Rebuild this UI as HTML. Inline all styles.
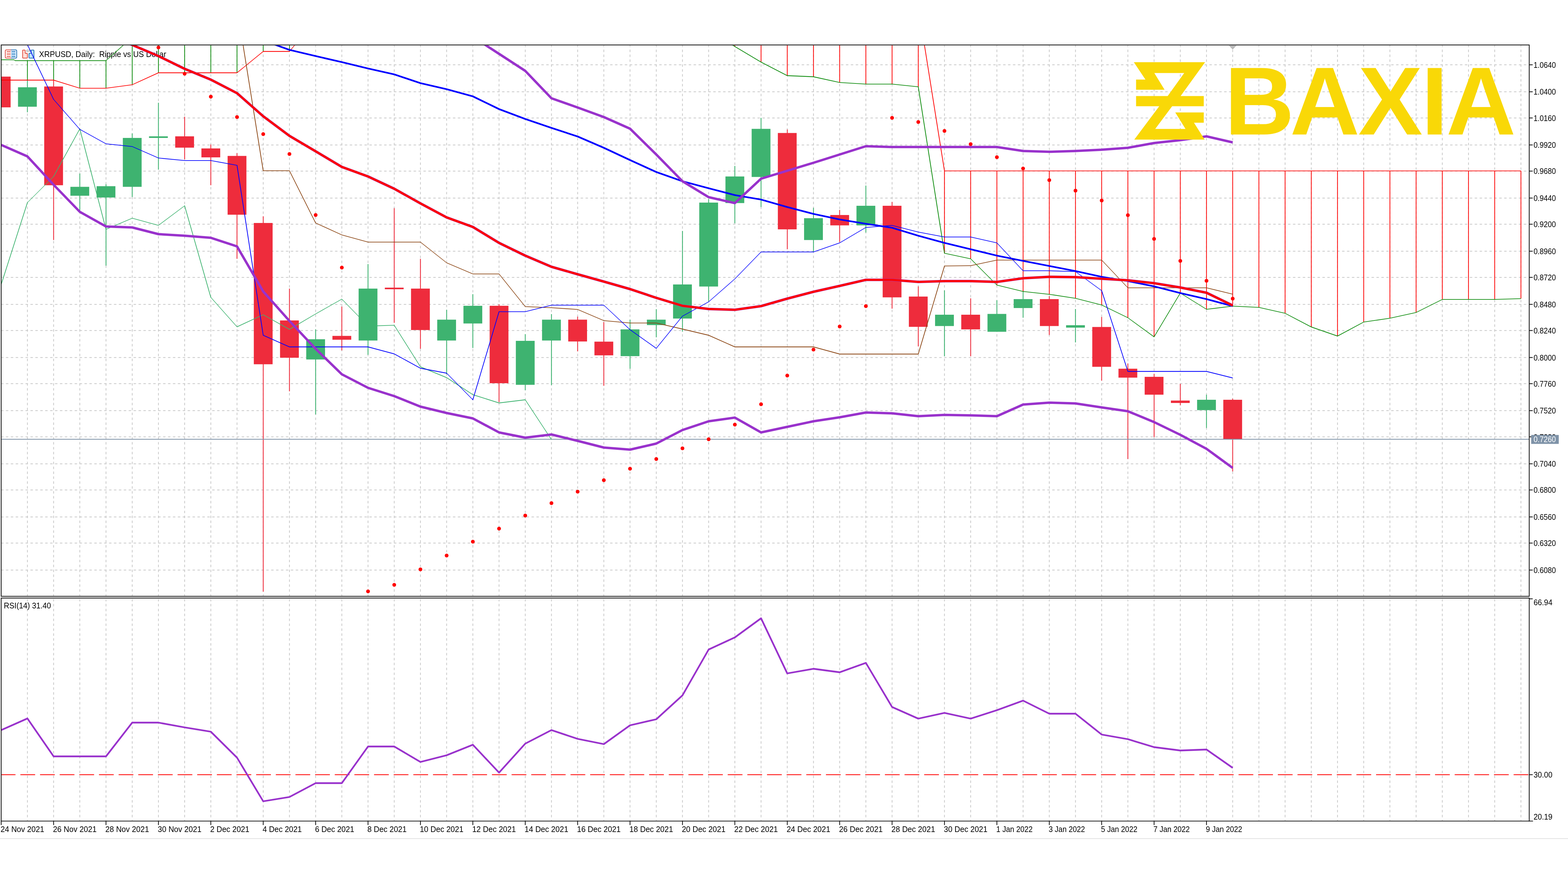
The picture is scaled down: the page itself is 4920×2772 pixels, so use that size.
<!DOCTYPE html>
<html><head><meta charset="utf-8"><title>XRPUSD, Daily: Ripple vs US Dollar</title>
<style>html,body{margin:0;padding:0;background:#fff}body{width:4920px;height:2772px}svg text{white-space:pre}</style>
</head><body>
<svg width="4920" height="2772" viewBox="0 0 4920 2772" style="display:block">
<rect width="4920" height="2772" fill="#fff"/>
<defs>
<clipPath id="cm"><rect x="5.0" y="142.4" width="4791.9" height="1728.3"/></clipPath>
<clipPath id="cr"><rect x="5.0" y="1878.7" width="4791.9" height="697.6"/></clipPath>
</defs>
<g clip-path="url(#cm)" stroke="#c6c6c6" stroke-width="2.25" stroke-dasharray="7.70 7.70" fill="none">
<line x1="86.0" y1="140.4" x2="86.0" y2="1872.0"/>
<line x1="168.2" y1="140.4" x2="168.2" y2="1872.0"/>
<line x1="250.4" y1="140.4" x2="250.4" y2="1872.0"/>
<line x1="332.6" y1="140.4" x2="332.6" y2="1872.0"/>
<line x1="414.9" y1="140.4" x2="414.9" y2="1872.0"/>
<line x1="497.1" y1="140.4" x2="497.1" y2="1872.0"/>
<line x1="579.3" y1="140.4" x2="579.3" y2="1872.0"/>
<line x1="661.5" y1="140.4" x2="661.5" y2="1872.0"/>
<line x1="743.7" y1="140.4" x2="743.7" y2="1872.0"/>
<line x1="825.9" y1="140.4" x2="825.9" y2="1872.0"/>
<line x1="908.2" y1="140.4" x2="908.2" y2="1872.0"/>
<line x1="990.4" y1="140.4" x2="990.4" y2="1872.0"/>
<line x1="1072.6" y1="140.4" x2="1072.6" y2="1872.0"/>
<line x1="1154.8" y1="140.4" x2="1154.8" y2="1872.0"/>
<line x1="1237.0" y1="140.4" x2="1237.0" y2="1872.0"/>
<line x1="1319.2" y1="140.4" x2="1319.2" y2="1872.0"/>
<line x1="1401.4" y1="140.4" x2="1401.4" y2="1872.0"/>
<line x1="1483.7" y1="140.4" x2="1483.7" y2="1872.0"/>
<line x1="1565.9" y1="140.4" x2="1565.9" y2="1872.0"/>
<line x1="1648.1" y1="140.4" x2="1648.1" y2="1872.0"/>
<line x1="1730.3" y1="140.4" x2="1730.3" y2="1872.0"/>
<line x1="1812.5" y1="140.4" x2="1812.5" y2="1872.0"/>
<line x1="1894.7" y1="140.4" x2="1894.7" y2="1872.0"/>
<line x1="1976.9" y1="140.4" x2="1976.9" y2="1872.0"/>
<line x1="2059.2" y1="140.4" x2="2059.2" y2="1872.0"/>
<line x1="2141.4" y1="140.4" x2="2141.4" y2="1872.0"/>
<line x1="2223.6" y1="140.4" x2="2223.6" y2="1872.0"/>
<line x1="2305.8" y1="140.4" x2="2305.8" y2="1872.0"/>
<line x1="2388.0" y1="140.4" x2="2388.0" y2="1872.0"/>
<line x1="2470.2" y1="140.4" x2="2470.2" y2="1872.0"/>
<line x1="2552.5" y1="140.4" x2="2552.5" y2="1872.0"/>
<line x1="2634.7" y1="140.4" x2="2634.7" y2="1872.0"/>
<line x1="2716.9" y1="140.4" x2="2716.9" y2="1872.0"/>
<line x1="2799.1" y1="140.4" x2="2799.1" y2="1872.0"/>
<line x1="2881.3" y1="140.4" x2="2881.3" y2="1872.0"/>
<line x1="2963.5" y1="140.4" x2="2963.5" y2="1872.0"/>
<line x1="3045.7" y1="140.4" x2="3045.7" y2="1872.0"/>
<line x1="3128.0" y1="140.4" x2="3128.0" y2="1872.0"/>
<line x1="3210.2" y1="140.4" x2="3210.2" y2="1872.0"/>
<line x1="3292.4" y1="140.4" x2="3292.4" y2="1872.0"/>
<line x1="3374.6" y1="140.4" x2="3374.6" y2="1872.0"/>
<line x1="3456.8" y1="140.4" x2="3456.8" y2="1872.0"/>
<line x1="3539.0" y1="140.4" x2="3539.0" y2="1872.0"/>
<line x1="3621.2" y1="140.4" x2="3621.2" y2="1872.0"/>
<line x1="3703.5" y1="140.4" x2="3703.5" y2="1872.0"/>
<line x1="3785.7" y1="140.4" x2="3785.7" y2="1872.0"/>
<line x1="3867.9" y1="140.4" x2="3867.9" y2="1872.0"/>
<line x1="3950.1" y1="140.4" x2="3950.1" y2="1872.0"/>
<line x1="4032.3" y1="140.4" x2="4032.3" y2="1872.0"/>
<line x1="4114.5" y1="140.4" x2="4114.5" y2="1872.0"/>
<line x1="4196.8" y1="140.4" x2="4196.8" y2="1872.0"/>
<line x1="4279.0" y1="140.4" x2="4279.0" y2="1872.0"/>
<line x1="4361.2" y1="140.4" x2="4361.2" y2="1872.0"/>
<line x1="4443.4" y1="140.4" x2="4443.4" y2="1872.0"/>
<line x1="4525.6" y1="140.4" x2="4525.6" y2="1872.0"/>
<line x1="4607.8" y1="140.4" x2="4607.8" y2="1872.0"/>
<line x1="4690.0" y1="140.4" x2="4690.0" y2="1872.0"/>
<line x1="4772.3" y1="140.4" x2="4772.3" y2="1872.0"/>
<line x1="3.0" y1="203.4" x2="4798.3" y2="203.4" stroke-dasharray="7.707 7.707"/>
<line x1="3.0" y1="288.1" x2="4798.3" y2="288.1" stroke-dasharray="7.707 7.707"/>
<line x1="3.0" y1="370.3" x2="4798.3" y2="370.3" stroke-dasharray="7.707 7.707"/>
<line x1="3.0" y1="455.0" x2="4798.3" y2="455.0" stroke-dasharray="7.707 7.707"/>
<line x1="3.0" y1="537.1" x2="4798.3" y2="537.1" stroke-dasharray="7.707 7.707"/>
<line x1="3.0" y1="621.8" x2="4798.3" y2="621.8" stroke-dasharray="7.707 7.707"/>
<line x1="3.0" y1="703.9" x2="4798.3" y2="703.9" stroke-dasharray="7.707 7.707"/>
<line x1="3.0" y1="788.6" x2="4798.3" y2="788.6" stroke-dasharray="7.707 7.707"/>
<line x1="3.0" y1="870.8" x2="4798.3" y2="870.8" stroke-dasharray="7.707 7.707"/>
<line x1="3.0" y1="955.5" x2="4798.3" y2="955.5" stroke-dasharray="7.707 7.707"/>
<line x1="3.0" y1="1037.6" x2="4798.3" y2="1037.6" stroke-dasharray="7.707 7.707"/>
<line x1="3.0" y1="1122.3" x2="4798.3" y2="1122.3" stroke-dasharray="7.707 7.707"/>
<line x1="3.0" y1="1204.4" x2="4798.3" y2="1204.4" stroke-dasharray="7.707 7.707"/>
<line x1="3.0" y1="1289.1" x2="4798.3" y2="1289.1" stroke-dasharray="7.707 7.707"/>
<line x1="3.0" y1="1371.3" x2="4798.3" y2="1371.3" stroke-dasharray="7.707 7.707"/>
<line x1="3.0" y1="1456.0" x2="4798.3" y2="1456.0" stroke-dasharray="7.707 7.707"/>
<line x1="3.0" y1="1538.1" x2="4798.3" y2="1538.1" stroke-dasharray="7.707 7.707"/>
<line x1="3.0" y1="1622.8" x2="4798.3" y2="1622.8" stroke-dasharray="7.707 7.707"/>
<line x1="3.0" y1="1704.9" x2="4798.3" y2="1704.9" stroke-dasharray="7.707 7.707"/>
<line x1="3.0" y1="1789.6" x2="4798.3" y2="1789.6" stroke-dasharray="7.707 7.707"/>
</g>
<g clip-path="url(#cr)" stroke="#c6c6c6" stroke-width="2.25" stroke-dasharray="7.70 7.70" fill="none">
<line x1="86.0" y1="1880.4" x2="86.0" y2="2577.6"/>
<line x1="168.2" y1="1880.4" x2="168.2" y2="2577.6"/>
<line x1="250.4" y1="1880.4" x2="250.4" y2="2577.6"/>
<line x1="332.6" y1="1880.4" x2="332.6" y2="2577.6"/>
<line x1="414.9" y1="1880.4" x2="414.9" y2="2577.6"/>
<line x1="497.1" y1="1880.4" x2="497.1" y2="2577.6"/>
<line x1="579.3" y1="1880.4" x2="579.3" y2="2577.6"/>
<line x1="661.5" y1="1880.4" x2="661.5" y2="2577.6"/>
<line x1="743.7" y1="1880.4" x2="743.7" y2="2577.6"/>
<line x1="825.9" y1="1880.4" x2="825.9" y2="2577.6"/>
<line x1="908.2" y1="1880.4" x2="908.2" y2="2577.6"/>
<line x1="990.4" y1="1880.4" x2="990.4" y2="2577.6"/>
<line x1="1072.6" y1="1880.4" x2="1072.6" y2="2577.6"/>
<line x1="1154.8" y1="1880.4" x2="1154.8" y2="2577.6"/>
<line x1="1237.0" y1="1880.4" x2="1237.0" y2="2577.6"/>
<line x1="1319.2" y1="1880.4" x2="1319.2" y2="2577.6"/>
<line x1="1401.4" y1="1880.4" x2="1401.4" y2="2577.6"/>
<line x1="1483.7" y1="1880.4" x2="1483.7" y2="2577.6"/>
<line x1="1565.9" y1="1880.4" x2="1565.9" y2="2577.6"/>
<line x1="1648.1" y1="1880.4" x2="1648.1" y2="2577.6"/>
<line x1="1730.3" y1="1880.4" x2="1730.3" y2="2577.6"/>
<line x1="1812.5" y1="1880.4" x2="1812.5" y2="2577.6"/>
<line x1="1894.7" y1="1880.4" x2="1894.7" y2="2577.6"/>
<line x1="1976.9" y1="1880.4" x2="1976.9" y2="2577.6"/>
<line x1="2059.2" y1="1880.4" x2="2059.2" y2="2577.6"/>
<line x1="2141.4" y1="1880.4" x2="2141.4" y2="2577.6"/>
<line x1="2223.6" y1="1880.4" x2="2223.6" y2="2577.6"/>
<line x1="2305.8" y1="1880.4" x2="2305.8" y2="2577.6"/>
<line x1="2388.0" y1="1880.4" x2="2388.0" y2="2577.6"/>
<line x1="2470.2" y1="1880.4" x2="2470.2" y2="2577.6"/>
<line x1="2552.5" y1="1880.4" x2="2552.5" y2="2577.6"/>
<line x1="2634.7" y1="1880.4" x2="2634.7" y2="2577.6"/>
<line x1="2716.9" y1="1880.4" x2="2716.9" y2="2577.6"/>
<line x1="2799.1" y1="1880.4" x2="2799.1" y2="2577.6"/>
<line x1="2881.3" y1="1880.4" x2="2881.3" y2="2577.6"/>
<line x1="2963.5" y1="1880.4" x2="2963.5" y2="2577.6"/>
<line x1="3045.7" y1="1880.4" x2="3045.7" y2="2577.6"/>
<line x1="3128.0" y1="1880.4" x2="3128.0" y2="2577.6"/>
<line x1="3210.2" y1="1880.4" x2="3210.2" y2="2577.6"/>
<line x1="3292.4" y1="1880.4" x2="3292.4" y2="2577.6"/>
<line x1="3374.6" y1="1880.4" x2="3374.6" y2="2577.6"/>
<line x1="3456.8" y1="1880.4" x2="3456.8" y2="2577.6"/>
<line x1="3539.0" y1="1880.4" x2="3539.0" y2="2577.6"/>
<line x1="3621.2" y1="1880.4" x2="3621.2" y2="2577.6"/>
<line x1="3703.5" y1="1880.4" x2="3703.5" y2="2577.6"/>
<line x1="3785.7" y1="1880.4" x2="3785.7" y2="2577.6"/>
<line x1="3867.9" y1="1880.4" x2="3867.9" y2="2577.6"/>
<line x1="3950.1" y1="1880.4" x2="3950.1" y2="2577.6"/>
<line x1="4032.3" y1="1880.4" x2="4032.3" y2="2577.6"/>
<line x1="4114.5" y1="1880.4" x2="4114.5" y2="2577.6"/>
<line x1="4196.8" y1="1880.4" x2="4196.8" y2="2577.6"/>
<line x1="4279.0" y1="1880.4" x2="4279.0" y2="2577.6"/>
<line x1="4361.2" y1="1880.4" x2="4361.2" y2="2577.6"/>
<line x1="4443.4" y1="1880.4" x2="4443.4" y2="2577.6"/>
<line x1="4525.6" y1="1880.4" x2="4525.6" y2="2577.6"/>
<line x1="4607.8" y1="1880.4" x2="4607.8" y2="2577.6"/>
<line x1="4690.0" y1="1880.4" x2="4690.0" y2="2577.6"/>
<line x1="4772.3" y1="1880.4" x2="4772.3" y2="2577.6"/>
</g>
<g id="title">
<rect x="20.5" y="159.6" width="14.2" height="19.8" fill="#ffe3dd"/>
<rect x="34.7" y="159.6" width="14.6" height="19.8" fill="#c3e3fb"/>
<path d="M35 156.7 H19.6 a3 3 0 0 0 -3 3 V179.3 a3 3 0 0 0 3 3 H35" fill="none" stroke="#de4b3f" stroke-width="2.3"/>
<path d="M34.4 156.7 H49.4 a3 3 0 0 1 3 3 V179.3 a3 3 0 0 1 -3 3 H34.4" fill="none" stroke="#1c6fb4" stroke-width="2.3"/>
<line x1="21" y1="162.2" x2="33.1" y2="162.2" stroke="#de4b3f" stroke-width="2.1"/>
<line x1="36.3" y1="162.2" x2="48.4" y2="162.2" stroke="#1c6fb4" stroke-width="2.1"/>
<line x1="21" y1="169.7" x2="33.1" y2="169.7" stroke="#de4b3f" stroke-width="2.1"/>
<line x1="36.3" y1="169.7" x2="48.4" y2="169.7" stroke="#1c6fb4" stroke-width="2.1"/>
<line x1="21" y1="177.1" x2="33.1" y2="177.1" stroke="#de4b3f" stroke-width="2.1"/>
<line x1="36.3" y1="177.1" x2="48.4" y2="177.1" stroke="#1c6fb4" stroke-width="2.1"/>
<path d="M72.6 157.1 h4.4 a2 2 0 0 1 2 2 v7 a1.4 1.4 0 0 0 1.4 1.4 h3.6 a2 2 0 0 1 2 2 v10.8 a2 2 0 0 1 -2 2 h-11.4 a1.6 1.6 0 0 1 -1.6 -1.6 v-22 a1.6 1.6 0 0 1 1.6 -1.6 z" fill="#ffe0d9" stroke="#de4b3f" stroke-width="2.3" stroke-linejoin="round"/>
<path d="M99.6 157.1 h5.2 a1.7 1.7 0 0 1 1.7 1.7 v21.8 a1.7 1.7 0 0 1 -1.7 1.7 h-12.2 a1.7 1.7 0 0 1 -1.7 -1.7 v-11.2 a2 2 0 0 1 2 -2 h3.3 a1.5 1.5 0 0 0 1.5 -1.5 v-6.8 a2 2 0 0 1 1.9 -2 z" fill="#bfe3fc" stroke="#1c6fb4" stroke-width="2.3" stroke-linejoin="round"/>
<rect x="83.4" y="157.4" width="10" height="4.2" rx="1.2" fill="#fff" stroke="#a0a0a0" stroke-width="1.7"/>
<text x="122.5" y="178.6" font-family="Liberation Sans, sans-serif" font-size="26" textLength="399" lengthAdjust="spacingAndGlyphs" fill="#000" xml:space="preserve">XRPUSD, Daily:  Ripple vs US Dollar</text>
</g>
<g clip-path="url(#cm)">
<rect x="-25.7" y="240.5" width="59.0" height="96.5" fill="#ee2c3c"/>
<rect x="84.7" y="251.5" width="2.57" height="101.0" fill="#3eb370"/>
<rect x="56.5" y="274.0" width="59.0" height="61.0" fill="#3eb370"/>
<rect x="166.9" y="251.5" width="2.57" height="502.0" fill="#ee2c3c"/>
<rect x="138.7" y="271.5" width="59.0" height="310.0" fill="#ee2c3c"/>
<rect x="249.1" y="545.0" width="2.57" height="116.0" fill="#3eb370"/>
<rect x="220.9" y="586.5" width="59.0" height="28.0" fill="#3eb370"/>
<rect x="331.4" y="578.5" width="2.57" height="255.5" fill="#3eb370"/>
<rect x="303.1" y="584.5" width="59.0" height="35.5" fill="#3eb370"/>
<rect x="413.6" y="419.0" width="2.57" height="199.5" fill="#3eb370"/>
<rect x="385.4" y="433.0" width="59.0" height="153.5" fill="#3eb370"/>
<rect x="495.8" y="322.5" width="2.57" height="210.0" fill="#3eb370"/>
<rect x="467.6" y="428.0" width="59.0" height="5.0" fill="#3eb370"/>
<rect x="578.0" y="366.5" width="2.57" height="133.5" fill="#ee2c3c"/>
<rect x="549.8" y="428.0" width="59.0" height="35.5" fill="#ee2c3c"/>
<rect x="660.2" y="453.5" width="2.57" height="128.0" fill="#ee2c3c"/>
<rect x="632.0" y="466.0" width="59.0" height="28.0" fill="#ee2c3c"/>
<rect x="742.4" y="481.0" width="2.57" height="331.5" fill="#ee2c3c"/>
<rect x="714.2" y="489.5" width="59.0" height="184.5" fill="#ee2c3c"/>
<rect x="824.7" y="679.0" width="2.57" height="1178.5" fill="#ee2c3c"/>
<rect x="796.4" y="700.0" width="59.0" height="443.5" fill="#ee2c3c"/>
<rect x="906.9" y="906.0" width="2.57" height="322.5" fill="#ee2c3c"/>
<rect x="878.7" y="1006.0" width="59.0" height="117.0" fill="#ee2c3c"/>
<rect x="989.1" y="1034.0" width="2.57" height="267.0" fill="#3eb370"/>
<rect x="960.9" y="1065.0" width="59.0" height="63.5" fill="#3eb370"/>
<rect x="1071.3" y="962.5" width="2.57" height="137.5" fill="#ee2c3c"/>
<rect x="1043.1" y="1054.5" width="59.0" height="12.0" fill="#ee2c3c"/>
<rect x="1153.5" y="829.0" width="2.57" height="285.0" fill="#3eb370"/>
<rect x="1125.3" y="906.0" width="59.0" height="163.0" fill="#3eb370"/>
<rect x="1235.7" y="653.5" width="2.57" height="360.0" fill="#ee2c3c"/>
<rect x="1207.5" y="903.0" width="59.0" height="5.0" fill="#ee2c3c"/>
<rect x="1317.9" y="812.5" width="2.57" height="282.5" fill="#ee2c3c"/>
<rect x="1289.7" y="906.0" width="59.0" height="130.0" fill="#ee2c3c"/>
<rect x="1400.2" y="972.5" width="2.57" height="202.5" fill="#3eb370"/>
<rect x="1371.9" y="1003.5" width="59.0" height="65.5" fill="#3eb370"/>
<rect x="1482.4" y="923.5" width="2.57" height="169.0" fill="#3eb370"/>
<rect x="1454.2" y="960.0" width="59.0" height="55.5" fill="#3eb370"/>
<rect x="1564.6" y="955.0" width="2.57" height="307.5" fill="#ee2c3c"/>
<rect x="1536.4" y="960.0" width="59.0" height="243.0" fill="#ee2c3c"/>
<rect x="1646.8" y="1049.0" width="2.57" height="176.0" fill="#3eb370"/>
<rect x="1618.6" y="1070.0" width="59.0" height="138.0" fill="#3eb370"/>
<rect x="1729.0" y="986.0" width="2.57" height="223.0" fill="#3eb370"/>
<rect x="1700.8" y="1003.5" width="59.0" height="65.5" fill="#3eb370"/>
<rect x="1811.2" y="994.0" width="2.57" height="109.0" fill="#ee2c3c"/>
<rect x="1783.0" y="1003.5" width="59.0" height="68.5" fill="#ee2c3c"/>
<rect x="1893.4" y="1011.0" width="2.57" height="200.0" fill="#ee2c3c"/>
<rect x="1865.2" y="1072.5" width="59.0" height="43.0" fill="#ee2c3c"/>
<rect x="1975.7" y="1003.5" width="2.57" height="154.0" fill="#3eb370"/>
<rect x="1947.4" y="1034.0" width="59.0" height="84.0" fill="#3eb370"/>
<rect x="2057.9" y="970.5" width="2.57" height="88.5" fill="#3eb370"/>
<rect x="2029.7" y="1003.5" width="59.0" height="17.0" fill="#3eb370"/>
<rect x="2140.1" y="725.0" width="2.57" height="316.0" fill="#3eb370"/>
<rect x="2111.9" y="893.0" width="59.0" height="107.0" fill="#3eb370"/>
<rect x="2222.3" y="625.0" width="2.57" height="321.0" fill="#3eb370"/>
<rect x="2194.1" y="636.0" width="59.0" height="263.5" fill="#3eb370"/>
<rect x="2304.5" y="521.0" width="2.57" height="180.0" fill="#3eb370"/>
<rect x="2276.3" y="554.0" width="59.0" height="83.5" fill="#3eb370"/>
<rect x="2386.7" y="370.0" width="2.57" height="280.0" fill="#3eb370"/>
<rect x="2358.5" y="404.5" width="59.0" height="151.0" fill="#3eb370"/>
<rect x="2469.0" y="406.5" width="2.57" height="376.0" fill="#ee2c3c"/>
<rect x="2440.7" y="417.5" width="59.0" height="302.5" fill="#ee2c3c"/>
<rect x="2551.2" y="652.5" width="2.57" height="138.5" fill="#3eb370"/>
<rect x="2523.0" y="685.0" width="59.0" height="68.5" fill="#3eb370"/>
<rect x="2633.4" y="659.0" width="2.57" height="101.0" fill="#ee2c3c"/>
<rect x="2605.2" y="675.0" width="59.0" height="32.5" fill="#ee2c3c"/>
<rect x="2715.6" y="582.5" width="2.57" height="147.5" fill="#3eb370"/>
<rect x="2687.4" y="646.0" width="59.0" height="61.5" fill="#3eb370"/>
<rect x="2797.8" y="634.0" width="2.57" height="335.0" fill="#ee2c3c"/>
<rect x="2769.6" y="646.0" width="59.0" height="287.5" fill="#ee2c3c"/>
<rect x="2880.0" y="899.0" width="2.57" height="188.5" fill="#ee2c3c"/>
<rect x="2851.8" y="931.0" width="59.0" height="95.0" fill="#ee2c3c"/>
<rect x="2962.2" y="911.5" width="2.57" height="207.0" fill="#3eb370"/>
<rect x="2934.0" y="988.0" width="59.0" height="35.5" fill="#3eb370"/>
<rect x="3044.5" y="936.5" width="2.57" height="182.0" fill="#ee2c3c"/>
<rect x="3016.2" y="988.0" width="59.0" height="46.0" fill="#ee2c3c"/>
<rect x="3126.7" y="942.5" width="2.57" height="99.0" fill="#3eb370"/>
<rect x="3098.5" y="985.5" width="59.0" height="56.0" fill="#3eb370"/>
<rect x="3208.9" y="912.5" width="2.57" height="85.0" fill="#3eb370"/>
<rect x="3180.7" y="939.0" width="59.0" height="28.0" fill="#3eb370"/>
<rect x="3291.1" y="930.0" width="2.57" height="121.5" fill="#ee2c3c"/>
<rect x="3262.9" y="939.0" width="59.0" height="84.5" fill="#ee2c3c"/>
<rect x="3373.3" y="970.0" width="2.57" height="105.0" fill="#3eb370"/>
<rect x="3345.1" y="1021.0" width="59.0" height="7.5" fill="#3eb370"/>
<rect x="3455.5" y="995.0" width="2.57" height="200.0" fill="#ee2c3c"/>
<rect x="3427.3" y="1026.5" width="59.0" height="125.0" fill="#ee2c3c"/>
<rect x="3537.7" y="1141.0" width="2.57" height="300.0" fill="#ee2c3c"/>
<rect x="3509.5" y="1157.5" width="59.0" height="28.0" fill="#ee2c3c"/>
<rect x="3620.0" y="1174.0" width="2.57" height="198.5" fill="#ee2c3c"/>
<rect x="3591.7" y="1183.0" width="59.0" height="56.0" fill="#ee2c3c"/>
<rect x="3702.2" y="1205.0" width="2.57" height="67.5" fill="#ee2c3c"/>
<rect x="3674.0" y="1257.5" width="59.0" height="7.5" fill="#ee2c3c"/>
<rect x="3784.4" y="1239.0" width="2.57" height="104.5" fill="#3eb370"/>
<rect x="3756.2" y="1255.0" width="59.0" height="32.5" fill="#3eb370"/>
<rect x="3866.6" y="1251.5" width="2.57" height="228.5" fill="#ee2c3c"/>
<rect x="3838.4" y="1255.0" width="59.0" height="125.0" fill="#ee2c3c"/>
</g>
<line x1="3.8" y1="1379.0" x2="4798.3" y2="1379.0" stroke="#7f93a8" stroke-width="2.57"/>
<g clip-path="url(#cm)">
<line x1="86.0" y1="190.4" x2="86.0" y2="251.5" stroke="#0a8a0a" stroke-width="2.3"/>
<line x1="168.2" y1="190.4" x2="168.2" y2="251.5" stroke="#0a8a0a" stroke-width="2.3"/>
<line x1="250.4" y1="190.4" x2="250.4" y2="277.0" stroke="#0a8a0a" stroke-width="2.3"/>
<line x1="332.6" y1="190.4" x2="332.6" y2="277.0" stroke="#0a8a0a" stroke-width="2.3"/>
<line x1="414.9" y1="141.1" x2="414.9" y2="266.0" stroke="#0a8a0a" stroke-width="2.3"/>
<line x1="497.1" y1="141.1" x2="497.1" y2="228.5" stroke="#0a8a0a" stroke-width="2.3"/>
<line x1="579.3" y1="141.1" x2="579.3" y2="228.5" stroke="#0a8a0a" stroke-width="2.3"/>
<line x1="661.5" y1="141.1" x2="661.5" y2="228.5" stroke="#0a8a0a" stroke-width="2.3"/>
<line x1="743.7" y1="141.1" x2="743.7" y2="228.5" stroke="#0a8a0a" stroke-width="2.3"/>
<line x1="825.9" y1="141.1" x2="825.9" y2="161.5" stroke="#0a8a0a" stroke-width="2.3"/>
<line x1="908.2" y1="141.1" x2="908.2" y2="161.5" stroke="#0a8a0a" stroke-width="2.3"/>
<line x1="2305.8" y1="141.1" x2="2305.8" y2="146.0" stroke="#ff0000" stroke-width="2.3"/>
<line x1="2388.0" y1="141.1" x2="2388.0" y2="195.0" stroke="#ff0000" stroke-width="2.3"/>
<line x1="2470.2" y1="141.1" x2="2470.2" y2="237.5" stroke="#ff0000" stroke-width="2.3"/>
<line x1="2552.5" y1="141.1" x2="2552.5" y2="241.0" stroke="#ff0000" stroke-width="2.3"/>
<line x1="2634.7" y1="141.1" x2="2634.7" y2="259.0" stroke="#ff0000" stroke-width="2.3"/>
<line x1="2716.9" y1="141.1" x2="2716.9" y2="264.0" stroke="#ff0000" stroke-width="2.3"/>
<line x1="2799.1" y1="141.1" x2="2799.1" y2="264.0" stroke="#ff0000" stroke-width="2.3"/>
<line x1="2881.3" y1="141.1" x2="2881.3" y2="272.5" stroke="#ff0000" stroke-width="2.3"/>
<line x1="2963.5" y1="536.5" x2="2963.5" y2="795.0" stroke="#ff0000" stroke-width="2.3"/>
<line x1="3045.7" y1="536.5" x2="3045.7" y2="812.5" stroke="#ff0000" stroke-width="2.3"/>
<line x1="3128.0" y1="536.5" x2="3128.0" y2="895.0" stroke="#ff0000" stroke-width="2.3"/>
<line x1="3210.2" y1="536.5" x2="3210.2" y2="915.0" stroke="#ff0000" stroke-width="2.3"/>
<line x1="3292.4" y1="536.5" x2="3292.4" y2="924.0" stroke="#ff0000" stroke-width="2.3"/>
<line x1="3374.6" y1="536.5" x2="3374.6" y2="936.5" stroke="#ff0000" stroke-width="2.3"/>
<line x1="3456.8" y1="536.5" x2="3456.8" y2="957.5" stroke="#ff0000" stroke-width="2.3"/>
<line x1="3539.0" y1="536.5" x2="3539.0" y2="997.5" stroke="#ff0000" stroke-width="2.3"/>
<line x1="3621.2" y1="536.5" x2="3621.2" y2="1057.5" stroke="#ff0000" stroke-width="2.3"/>
<line x1="3703.5" y1="536.5" x2="3703.5" y2="920.0" stroke="#ff0000" stroke-width="2.3"/>
<line x1="3785.7" y1="536.5" x2="3785.7" y2="971.0" stroke="#ff0000" stroke-width="2.3"/>
<line x1="3867.9" y1="536.5" x2="3867.9" y2="961.0" stroke="#ff0000" stroke-width="2.3"/>
<line x1="3950.1" y1="536.5" x2="3950.1" y2="965.0" stroke="#ff0000" stroke-width="2.3"/>
<line x1="4032.3" y1="536.5" x2="4032.3" y2="983.5" stroke="#ff0000" stroke-width="2.3"/>
<line x1="4114.5" y1="536.5" x2="4114.5" y2="1026.5" stroke="#ff0000" stroke-width="2.3"/>
<line x1="4196.8" y1="536.5" x2="4196.8" y2="1055.0" stroke="#ff0000" stroke-width="2.3"/>
<line x1="4279.0" y1="536.5" x2="4279.0" y2="1011.0" stroke="#ff0000" stroke-width="2.3"/>
<line x1="4361.2" y1="536.5" x2="4361.2" y2="999.0" stroke="#ff0000" stroke-width="2.3"/>
<line x1="4443.4" y1="536.5" x2="4443.4" y2="981.0" stroke="#ff0000" stroke-width="2.3"/>
<line x1="4525.6" y1="536.5" x2="4525.6" y2="940.0" stroke="#ff0000" stroke-width="2.3"/>
<line x1="4607.8" y1="536.5" x2="4607.8" y2="940.0" stroke="#ff0000" stroke-width="2.3"/>
<line x1="4690.0" y1="536.5" x2="4690.0" y2="940.0" stroke="#ff0000" stroke-width="2.3"/>
<line x1="4772.3" y1="536.5" x2="4772.3" y2="937.5" stroke="#ff0000" stroke-width="2.3"/>
<path d="M3.8 186.4 L44.1 186.4 L44.1 188.8 L3.8 188.8ZM44.1 186.4 L47.4 189.2 L47.4 191.6 L44.1 188.8ZM47.4 189.2 L86.0 189.2 L86.0 191.6 L47.4 191.6ZM86.0 189.2 L168.2 189.2 L168.2 191.6 L86.0 191.6ZM168.2 189.2 L250.4 189.2 L250.4 191.6 L168.2 191.6ZM250.4 189.2 L332.6 189.2 L332.6 191.6 L250.4 191.6ZM332.6 189.2 L414.9 115.8 L414.9 118.2 L332.6 191.6Z" fill="#0a8a0a" fill-rule="nonzero" />
<path d="M3.8 250.3 L86.0 250.3 L86.0 252.7 L3.8 252.7ZM86.0 250.3 L168.2 250.3 L168.2 252.7 L86.0 252.7ZM168.2 250.3 L250.4 275.9 L250.4 278.1 L168.2 252.7ZM250.4 275.9 L332.6 275.9 L332.6 278.1 L250.4 278.1ZM332.6 275.9 L414.9 264.9 L414.9 267.1 L332.6 278.1ZM414.9 264.9 L497.1 227.3 L497.1 229.7 L414.9 267.1ZM497.1 227.3 L579.3 227.3 L579.3 229.7 L497.1 229.7ZM579.3 227.3 L661.5 227.3 L661.5 229.7 L579.3 229.7ZM661.5 227.3 L743.7 227.3 L743.7 229.7 L661.5 229.7ZM743.7 227.3 L825.9 160.3 L825.9 162.7 L743.7 229.7ZM825.9 160.3 L908.2 160.3 L908.2 162.7 L825.9 162.7ZM906.2 162.5 L989.2 63.0 L991.5 63.0 L908.5 162.5Z" fill="#ff0000" fill-rule="nonzero" />
<path d="M2223.6 95.8 L2305.8 144.8 L2305.8 147.2 L2223.6 98.2ZM2305.8 144.8 L2388.0 193.8 L2388.0 196.2 L2305.8 147.2ZM2388.0 193.8 L2470.2 236.3 L2470.2 238.7 L2388.0 196.2ZM2470.2 236.3 L2552.5 239.8 L2552.5 242.2 L2470.2 238.7ZM2552.5 239.8 L2634.7 257.9 L2634.7 260.1 L2552.5 242.2ZM2634.7 257.9 L2716.9 262.9 L2716.9 265.1 L2634.7 260.1ZM2716.9 262.9 L2799.1 262.9 L2799.1 265.1 L2716.9 265.1ZM2799.1 262.9 L2881.3 271.4 L2881.3 273.6 L2799.1 265.1ZM2882.3 271.5 L2964.8 796.0 L2962.5 796.0 L2880.0 271.5ZM2963.5 793.9 L3045.7 811.4 L3045.7 813.6 L2963.5 796.1ZM3045.9 811.5 L3130.1 896.0 L3127.8 896.0 L3043.6 811.5ZM3128.0 893.9 L3210.2 913.9 L3210.2 916.1 L3128.0 896.1ZM3210.2 913.9 L3292.4 922.9 L3292.4 925.1 L3210.2 916.1ZM3292.4 922.9 L3374.6 935.4 L3374.6 937.6 L3292.4 925.1ZM3374.6 935.4 L3456.8 956.4 L3456.8 958.6 L3374.6 937.6ZM3456.8 956.4 L3539.0 996.4 L3539.0 998.6 L3456.8 958.6ZM3539.0 996.4 L3621.2 1056.3 L3621.2 1058.7 L3539.0 998.6ZM3619.5 1058.5 L3702.9 919.0 L3705.2 919.0 L3621.8 1058.5ZM3703.5 918.9 L3785.7 969.9 L3785.7 972.1 L3703.5 921.1ZM3785.7 969.9 L3867.9 959.9 L3867.9 962.1 L3785.7 972.1ZM3867.9 959.9 L3950.1 963.9 L3950.1 966.1 L3867.9 962.1ZM3950.1 963.9 L4032.3 982.4 L4032.3 984.6 L3950.1 966.1ZM4032.3 982.4 L4114.5 1025.3 L4114.5 1027.7 L4032.3 984.6ZM4114.5 1025.3 L4196.8 1053.8 L4196.8 1056.2 L4114.5 1027.7ZM4196.8 1053.8 L4279.0 1009.9 L4279.0 1012.1 L4196.8 1056.2ZM4279.0 1009.9 L4361.2 997.9 L4361.2 1000.1 L4279.0 1012.1ZM4361.2 997.9 L4443.4 979.9 L4443.4 982.1 L4361.2 1000.1ZM4443.4 979.9 L4525.6 938.9 L4525.6 941.1 L4443.4 982.1ZM4525.6 938.9 L4607.8 938.9 L4607.8 941.1 L4525.6 941.1ZM4607.8 938.9 L4690.0 938.9 L4690.0 941.1 L4607.8 941.1ZM4690.0 938.9 L4772.3 936.4 L4772.3 938.6 L4690.0 941.1Z" fill="#0a8a0a" fill-rule="nonzero" />
<path d="M2882.5 20.0 L2964.8 537.5 L2962.5 537.5 L2880.2 20.0ZM2963.5 535.4 L3045.7 535.4 L3045.7 537.6 L2963.5 537.6ZM3045.7 535.4 L3128.0 535.4 L3128.0 537.6 L3045.7 537.6ZM3128.0 535.4 L3210.2 535.4 L3210.2 537.6 L3128.0 537.6ZM3210.2 535.4 L3292.4 535.4 L3292.4 537.6 L3210.2 537.6ZM3292.4 535.4 L3374.6 535.4 L3374.6 537.6 L3292.4 537.6ZM3374.6 535.4 L3456.8 535.4 L3456.8 537.6 L3374.6 537.6ZM3456.8 535.4 L3539.0 535.4 L3539.0 537.6 L3456.8 537.6ZM3539.0 535.4 L3621.2 535.4 L3621.2 537.6 L3539.0 537.6ZM3621.2 535.4 L3703.5 535.4 L3703.5 537.6 L3621.2 537.6ZM3703.5 535.4 L3785.7 535.4 L3785.7 537.6 L3703.5 537.6ZM3785.7 535.4 L3867.9 535.4 L3867.9 537.6 L3785.7 537.6ZM3867.9 535.4 L3950.1 535.4 L3950.1 537.6 L3867.9 537.6ZM3950.1 535.4 L4032.3 535.4 L4032.3 537.6 L3950.1 537.6ZM4032.3 535.4 L4114.5 535.4 L4114.5 537.6 L4032.3 537.6ZM4114.5 535.4 L4196.8 535.4 L4196.8 537.6 L4114.5 537.6ZM4196.8 535.4 L4279.0 535.4 L4279.0 537.6 L4196.8 537.6ZM4279.0 535.4 L4361.2 535.4 L4361.2 537.6 L4279.0 537.6ZM4361.2 535.4 L4443.4 535.4 L4443.4 537.6 L4361.2 537.6ZM4443.4 535.4 L4525.6 535.4 L4525.6 537.6 L4443.4 537.6ZM4525.6 535.4 L4607.8 535.4 L4607.8 537.6 L4525.6 537.6ZM4607.8 535.4 L4690.0 535.4 L4690.0 537.6 L4607.8 537.6ZM4690.0 535.4 L4772.3 535.4 L4772.3 537.6 L4690.0 537.6Z" fill="#ff0000" fill-rule="nonzero" />
<path d="M2.6 893.0 L85.2 635.0 L87.5 635.0 L4.9 893.0ZM86.0 634.9 L168.2 552.9 L168.2 555.1 L86.0 637.1ZM166.5 555.0 L249.8 403.5 L252.1 403.5 L168.8 555.0ZM251.3 403.5 L334.0 721.0 L331.7 721.0 L249.0 403.5ZM332.6 718.9 L414.9 683.9 L414.9 686.1 L332.6 721.1ZM414.9 683.9 L497.1 706.4 L497.1 708.6 L414.9 686.1ZM497.1 706.4 L579.3 644.9 L579.3 647.1 L497.1 708.6ZM580.2 645.0 L662.9 934.5 L660.6 934.5 L577.9 645.0ZM661.8 932.5 L745.7 1027.0 L743.4 1027.0 L659.5 932.5ZM743.7 1024.8 L825.9 986.9 L825.9 989.1 L743.7 1027.2ZM825.9 986.9 L908.2 1032.8 L908.2 1035.2 L825.9 989.1ZM908.2 1032.8 L990.4 984.4 L990.4 986.6 L908.2 1035.2ZM990.4 984.4 L1072.6 937.9 L1072.6 940.1 L990.4 986.6ZM1072.8 938.0 L1156.9 1024.5 L1154.6 1024.5 L1070.5 938.0ZM1154.8 1022.4 L1237.0 1019.9 L1237.0 1022.1 L1154.8 1024.7ZM1237.5 1020.0 L1321.0 1152.5 L1318.7 1152.5 L1235.2 1020.0ZM1319.2 1150.3 L1401.4 1184.3 L1401.4 1186.7 L1319.2 1152.7ZM1401.4 1184.3 L1483.7 1237.8 L1483.7 1240.2 L1401.4 1186.7ZM1483.7 1237.8 L1565.9 1263.8 L1565.9 1266.2 L1483.7 1240.2ZM1565.9 1263.8 L1648.1 1253.8 L1648.1 1256.2 L1565.9 1266.2ZM1648.6 1254.0 L1731.5 1380.0 L1729.2 1380.0 L1646.3 1254.0Z" fill="#3eb370" fill-rule="nonzero" />
<path d="M661.5 -51.1 L743.7 21.9 L743.7 24.1 L661.5 -48.9ZM744.7 22.0 L827.2 537.0 L824.9 537.0 L742.4 22.0ZM825.9 534.9 L908.2 534.9 L908.2 537.1 L825.9 537.1ZM908.8 535.0 L992.0 701.0 L989.7 701.0 L906.5 535.0ZM990.4 698.9 L1072.6 736.4 L1072.6 738.6 L990.4 701.1ZM1072.6 736.4 L1154.8 758.9 L1154.8 761.1 L1072.6 738.6ZM1154.8 758.9 L1237.0 758.9 L1237.0 761.1 L1154.8 761.1ZM1237.0 758.9 L1319.2 758.9 L1319.2 761.1 L1237.0 761.1ZM1319.2 758.9 L1401.4 823.9 L1401.4 826.1 L1319.2 761.1ZM1401.4 823.9 L1483.7 858.9 L1483.7 861.1 L1401.4 826.1ZM1483.7 858.9 L1565.9 858.9 L1565.9 861.1 L1483.7 861.1ZM1566.2 859.0 L1650.0 963.5 L1647.7 963.5 L1563.9 859.0ZM1648.1 961.4 L1730.3 964.9 L1730.3 967.1 L1648.1 963.6ZM1730.3 964.9 L1812.5 970.4 L1812.5 972.6 L1730.3 967.1ZM1812.5 970.4 L1894.7 1005.4 L1894.7 1007.6 L1812.5 972.6ZM1894.7 1005.4 L1976.9 1012.9 L1976.9 1015.1 L1894.7 1007.6ZM1976.9 1012.9 L2059.2 1012.9 L2059.2 1015.1 L1976.9 1015.1ZM2059.2 1012.9 L2141.4 1031.8 L2141.4 1034.2 L2059.2 1015.1ZM2141.4 1031.8 L2223.6 1051.3 L2223.6 1053.7 L2141.4 1034.2ZM2223.6 1051.3 L2305.8 1087.8 L2305.8 1090.2 L2223.6 1053.7ZM2305.8 1087.8 L2388.0 1087.8 L2388.0 1090.2 L2305.8 1090.2ZM2388.0 1087.8 L2470.2 1087.8 L2470.2 1090.2 L2388.0 1090.2ZM2470.2 1087.8 L2552.5 1087.8 L2552.5 1090.2 L2470.2 1090.2ZM2552.5 1087.8 L2634.7 1110.3 L2634.7 1112.7 L2552.5 1090.2ZM2634.7 1110.3 L2716.9 1110.3 L2716.9 1112.7 L2634.7 1112.7ZM2716.9 1110.3 L2799.1 1110.3 L2799.1 1112.7 L2716.9 1112.7ZM2799.1 1110.3 L2881.3 1110.3 L2881.3 1112.7 L2799.1 1112.7ZM2879.9 1112.5 L2962.7 834.0 L2965.0 834.0 L2882.2 1112.5ZM2963.5 833.9 L3045.7 832.9 L3045.7 835.1 L2963.5 836.1ZM3045.7 832.9 L3128.0 815.4 L3128.0 817.6 L3045.7 835.1ZM3128.0 815.4 L3210.2 815.4 L3210.2 817.6 L3128.0 817.6ZM3210.2 815.4 L3292.4 815.4 L3292.4 817.6 L3210.2 817.6ZM3292.4 815.4 L3374.6 815.4 L3374.6 817.6 L3292.4 817.6ZM3374.6 815.4 L3456.8 815.4 L3456.8 817.6 L3374.6 817.6ZM3457.0 815.5 L3541.1 904.5 L3538.8 904.5 L3454.7 815.5ZM3539.0 902.4 L3621.2 902.4 L3621.2 904.6 L3539.0 904.6ZM3621.2 902.4 L3703.5 902.4 L3703.5 904.6 L3621.2 904.6ZM3703.5 902.4 L3785.7 902.4 L3785.7 904.6 L3703.5 904.6ZM3785.7 902.4 L3867.9 922.4 L3867.9 924.6 L3785.7 904.6Z" fill="#8b4513" fill-rule="nonzero" />
<path d="M4.9 0.0 L87.7 141.0 L85.4 141.0 L2.6 0.0ZM86.7 139.0 L169.8 313.0 L167.5 313.0 L84.4 139.0ZM168.5 311.0 L252.4 407.0 L250.1 407.0 L166.2 311.0ZM250.4 404.9 L332.6 450.4 L332.6 452.6 L250.4 407.1ZM332.6 450.4 L414.9 458.9 L414.9 461.1 L332.6 452.6ZM414.9 458.9 L497.1 494.9 L497.1 497.1 L414.9 461.1ZM497.1 494.9 L579.3 502.9 L579.3 505.1 L497.1 497.1ZM579.3 502.9 L661.5 502.9 L661.5 505.1 L579.3 505.1ZM661.5 502.9 L743.7 517.9 L743.7 520.1 L661.5 505.1ZM744.7 518.0 L827.2 1053.5 L824.9 1053.5 L742.4 518.0ZM825.9 1051.3 L908.2 1087.8 L908.2 1090.2 L825.9 1053.7ZM908.2 1087.8 L990.4 1087.8 L990.4 1090.2 L908.2 1090.2ZM990.4 1087.8 L1072.6 1087.8 L1072.6 1090.2 L990.4 1090.2ZM1072.6 1087.8 L1154.8 1087.8 L1154.8 1090.2 L1072.6 1090.2ZM1154.8 1087.8 L1237.0 1109.8 L1237.0 1112.2 L1154.8 1090.2ZM1237.0 1109.8 L1319.2 1154.8 L1319.2 1157.2 L1237.0 1112.2ZM1319.2 1154.8 L1401.4 1170.3 L1401.4 1172.7 L1319.2 1157.2ZM1401.6 1170.5 L1485.8 1256.0 L1483.5 1256.0 L1399.3 1170.5ZM1482.2 1256.0 L1565.0 977.5 L1567.3 977.5 L1484.5 1256.0ZM1565.9 977.4 L1648.1 977.4 L1648.1 979.6 L1565.9 979.6ZM1648.1 977.4 L1730.3 956.9 L1730.3 959.1 L1648.1 979.6ZM1730.3 956.9 L1812.5 956.9 L1812.5 959.1 L1730.3 959.1ZM1812.5 956.9 L1894.7 956.9 L1894.7 959.1 L1812.5 959.1ZM1894.7 956.9 L1976.9 1033.8 L1976.9 1036.2 L1894.7 959.1ZM1976.9 1033.8 L2059.2 1092.3 L2059.2 1094.7 L1976.9 1036.2ZM2057.2 1094.5 L2141.0 991.5 L2143.3 991.5 L2059.5 1094.5ZM2141.4 991.4 L2223.6 946.4 L2223.6 948.6 L2141.4 993.6ZM2223.6 946.4 L2305.8 874.4 L2305.8 876.6 L2223.6 948.6ZM2303.7 876.5 L2387.8 790.0 L2390.1 790.0 L2306.0 876.5ZM2388.0 789.9 L2470.2 789.9 L2470.2 792.1 L2388.0 792.1ZM2470.2 789.9 L2552.5 789.9 L2552.5 792.1 L2470.2 792.1ZM2552.5 789.9 L2634.7 761.4 L2634.7 763.6 L2552.5 792.1ZM2634.7 761.4 L2716.9 712.9 L2716.9 715.1 L2634.7 763.6ZM2716.9 712.9 L2799.1 706.4 L2799.1 708.6 L2716.9 715.1ZM2799.1 706.4 L2881.3 727.4 L2881.3 729.6 L2799.1 708.6ZM2881.3 727.4 L2963.5 742.9 L2963.5 745.1 L2881.3 729.6ZM2963.5 742.9 L3045.7 742.9 L3045.7 745.1 L2963.5 745.1ZM3045.7 742.9 L3128.0 761.4 L3128.0 763.6 L3045.7 745.1ZM3128.2 761.5 L3212.2 851.0 L3209.9 851.0 L3125.9 761.5ZM3210.2 848.9 L3292.4 848.9 L3292.4 851.1 L3210.2 851.1ZM3292.4 848.9 L3374.6 851.4 L3374.6 853.6 L3292.4 851.1ZM3374.6 851.4 L3456.8 911.4 L3456.8 913.6 L3374.6 853.6ZM3457.6 911.5 L3540.5 1167.0 L3538.2 1167.0 L3455.3 911.5ZM3539.0 1164.8 L3621.2 1164.8 L3621.2 1167.2 L3539.0 1167.2ZM3621.2 1164.8 L3703.5 1164.8 L3703.5 1167.2 L3621.2 1167.2ZM3703.5 1164.8 L3785.7 1164.8 L3785.7 1167.2 L3703.5 1167.2ZM3785.7 1164.8 L3867.9 1185.3 L3867.9 1187.7 L3785.7 1167.2Z" fill="#0000ff" fill-rule="nonzero" />
<polyline points="825.9,127.0 908.2,156.5 990.4,176.0 1072.6,195.0 1154.8,215.0 1237.0,233.5 1319.2,261.0 1401.4,280.0 1483.7,302.5 1565.9,342.5 1648.1,373.5 1730.3,401.5 1812.5,428.5 1894.7,464.0 1976.9,502.5 2059.2,540.0 2141.4,569.0 2223.6,591.0 2305.8,612.5 2388.0,626.5 2470.2,650.0 2552.5,671.5 2634.7,689.0 2716.9,702.5 2799.1,715.0 2881.3,740.0 2963.5,762.5 3045.7,782.5 3128.0,802.5 3210.2,819.0 3292.4,835.0 3374.6,851.0 3456.8,869.0 3539.0,882.5 3621.2,899.0 3703.5,920.0 3785.7,939.0 3867.9,961.0" fill="none" stroke="#0000ff" stroke-width="5.3" stroke-linejoin="round" stroke-linecap="butt" />
<polyline points="1483.7,115.6 1565.9,169.0 1648.1,222.5 1730.3,308.5 1812.5,337.5 1894.7,367.5 1976.9,404.0 2059.2,485.0 2141.4,569.0 2223.6,619.0 2305.8,637.5 2388.0,561.0 2470.2,536.0 2552.5,511.0 2634.7,485.0 2716.9,459.0 2799.1,461.5 2881.3,461.5 2963.5,461.5 3045.7,461.5 3128.0,461.5 3210.2,474.0 3292.4,476.5 3374.6,474.0 3456.8,470.0 3539.0,464.0 3621.2,449.0 3703.5,440.0 3785.7,428.0 3867.9,447.0" fill="none" stroke="#9932cc" stroke-width="7.5" stroke-linejoin="round" stroke-linecap="butt" />
<polyline points="3.8,455.0 86.0,491.0 168.2,580.0 250.4,665.0 332.6,711.0 414.9,714.0 497.1,735.0 579.3,740.0 661.5,746.5 743.7,773.5 825.9,915.0 908.2,1007.5 990.4,1095.0 1072.6,1175.0 1154.8,1217.5 1237.0,1243.5 1319.2,1276.5 1401.4,1296.5 1483.7,1313.5 1565.9,1357.5 1648.1,1374.0 1730.3,1364.0 1812.5,1384.0 1894.7,1405.0 1976.9,1411.5 2059.2,1392.5 2141.4,1350.0 2223.6,1322.5 2305.8,1311.0 2388.0,1357.5 2470.2,1340.0 2552.5,1322.5 2634.7,1310.0 2716.9,1295.0 2799.1,1297.5 2881.3,1306.5 2963.5,1302.5 3045.7,1304.0 3128.0,1306.5 3210.2,1270.0 3292.4,1264.0 3374.6,1266.5 3456.8,1279.0 3539.0,1291.0 3621.2,1325.0 3703.5,1365.0 3785.7,1409.0 3867.9,1469.0" fill="none" stroke="#9932cc" stroke-width="7.5" stroke-linejoin="round" stroke-linecap="butt" />
<polyline points="332.6,106.0 414.9,141.0 497.1,176.0 579.3,216.0 661.5,250.0 743.7,292.5 825.9,365.0 908.2,426.5 990.4,475.0 1072.6,524.0 1154.8,554.0 1237.0,592.5 1319.2,638.5 1401.4,682.5 1483.7,712.5 1565.9,762.5 1648.1,802.5 1730.3,837.5 1812.5,861.0 1894.7,884.0 1976.9,907.5 2059.2,935.0 2141.4,960.0 2223.6,970.0 2305.8,972.5 2388.0,961.0 2470.2,937.5 2552.5,916.0 2634.7,897.5 2716.9,878.5 2799.1,878.5 2881.3,885.0 2963.5,882.5 3045.7,882.5 3128.0,885.0 3210.2,873.5 3292.4,869.0 3374.6,870.0 3456.8,875.0 3539.0,880.0 3621.2,889.0 3703.5,902.5 3785.7,919.0 3867.9,959.0" fill="none" stroke="#9932cc" stroke-width="8.1" stroke-linejoin="round" stroke-linecap="butt" />
<polyline points="332.6,106.0 414.9,141.0 497.1,176.0 579.3,216.0 661.5,250.0 743.7,292.5 825.9,365.0 908.2,426.5 990.4,475.0 1072.6,524.0 1154.8,554.0 1237.0,592.5 1319.2,638.5 1401.4,682.5 1483.7,712.5 1565.9,762.5 1648.1,802.5 1730.3,837.5 1812.5,861.0 1894.7,884.0 1976.9,907.5 2059.2,935.0 2141.4,960.0 2223.6,970.0 2305.8,972.5 2388.0,961.0 2470.2,937.5 2552.5,916.0 2634.7,897.5 2716.9,878.5 2799.1,878.5 2881.3,885.0 2963.5,882.5 3045.7,882.5 3128.0,885.0 3210.2,873.5 3292.4,869.0 3374.6,870.0 3456.8,875.0 3539.0,880.0 3621.2,889.0 3703.5,902.5 3785.7,919.0 3867.9,959.0" fill="none" stroke="#ff0000" stroke-width="6.7" stroke-linejoin="round" stroke-linecap="butt" />
<circle cx="497.1" cy="149.0" r="5.9" fill="#ff0000"/>
<circle cx="579.3" cy="231.5" r="5.9" fill="#ff0000"/>
<circle cx="661.5" cy="303.5" r="5.9" fill="#ff0000"/>
<circle cx="743.7" cy="367.5" r="5.9" fill="#ff0000"/>
<circle cx="825.9" cy="421.0" r="5.9" fill="#ff0000"/>
<circle cx="908.2" cy="483.5" r="5.9" fill="#ff0000"/>
<circle cx="990.4" cy="675.0" r="5.9" fill="#ff0000"/>
<circle cx="1072.6" cy="840.0" r="5.9" fill="#ff0000"/>
<circle cx="1154.8" cy="1856.5" r="5.9" fill="#ff0000"/>
<circle cx="1237.0" cy="1836.0" r="5.9" fill="#ff0000"/>
<circle cx="1319.2" cy="1787.5" r="5.9" fill="#ff0000"/>
<circle cx="1401.4" cy="1744.0" r="5.9" fill="#ff0000"/>
<circle cx="1483.7" cy="1700.5" r="5.9" fill="#ff0000"/>
<circle cx="1565.9" cy="1659.5" r="5.9" fill="#ff0000"/>
<circle cx="1648.1" cy="1618.5" r="5.9" fill="#ff0000"/>
<circle cx="1730.3" cy="1579.5" r="5.9" fill="#ff0000"/>
<circle cx="1812.5" cy="1543.5" r="5.9" fill="#ff0000"/>
<circle cx="1894.7" cy="1507.5" r="5.9" fill="#ff0000"/>
<circle cx="1976.9" cy="1471.5" r="5.9" fill="#ff0000"/>
<circle cx="2059.2" cy="1441.0" r="5.9" fill="#ff0000"/>
<circle cx="2141.4" cy="1407.5" r="5.9" fill="#ff0000"/>
<circle cx="2223.6" cy="1379.0" r="5.9" fill="#ff0000"/>
<circle cx="2305.8" cy="1333.0" r="5.9" fill="#ff0000"/>
<circle cx="2388.0" cy="1269.0" r="5.9" fill="#ff0000"/>
<circle cx="2470.2" cy="1179.0" r="5.9" fill="#ff0000"/>
<circle cx="2552.5" cy="1097.5" r="5.9" fill="#ff0000"/>
<circle cx="2634.7" cy="1025.0" r="5.9" fill="#ff0000"/>
<circle cx="2716.9" cy="961.0" r="5.9" fill="#ff0000"/>
<circle cx="2799.1" cy="370.0" r="5.9" fill="#ff0000"/>
<circle cx="2881.3" cy="383.0" r="5.9" fill="#ff0000"/>
<circle cx="2963.5" cy="411.0" r="5.9" fill="#ff0000"/>
<circle cx="3045.7" cy="452.5" r="5.9" fill="#ff0000"/>
<circle cx="3128.0" cy="493.5" r="5.9" fill="#ff0000"/>
<circle cx="3210.2" cy="529.0" r="5.9" fill="#ff0000"/>
<circle cx="3292.4" cy="565.5" r="5.9" fill="#ff0000"/>
<circle cx="3374.6" cy="598.5" r="5.9" fill="#ff0000"/>
<circle cx="3456.8" cy="629.5" r="5.9" fill="#ff0000"/>
<circle cx="3539.0" cy="675.5" r="5.9" fill="#ff0000"/>
<circle cx="3621.2" cy="750.0" r="5.9" fill="#ff0000"/>
<circle cx="3703.5" cy="819.0" r="5.9" fill="#ff0000"/>
<circle cx="3785.7" cy="881.5" r="5.9" fill="#ff0000"/>
<circle cx="3867.9" cy="937.5" r="5.9" fill="#ff0000"/>
</g>
<g clip-path="url(#cr)">
<line x1="2.35" y1="2432.0" x2="4798.3" y2="2432.0" stroke="#ff0000" stroke-width="2.57" stroke-dasharray="46.24 15.41"/>
<polyline points="3.8,2292.0 86.0,2255.5 168.2,2374.5 250.4,2374.5 332.6,2374.5 414.9,2268.5 497.1,2268.5 579.3,2283.5 661.5,2297.0 743.7,2378.5 825.9,2515.5 908.2,2502.0 990.4,2458.5 1072.6,2458.5 1154.8,2343.5 1237.0,2343.5 1319.2,2392.0 1401.4,2371.0 1483.7,2338.0 1565.9,2425.5 1648.1,2334.5 1730.3,2292.0 1812.5,2319.5 1894.7,2336.0 1976.9,2277.0 2059.2,2258.0 2141.4,2183.0 2223.6,2039.0 2305.8,2001.0 2388.0,1941.0 2470.2,2114.0 2552.5,2099.5 2634.7,2110.5 2716.9,2081.0 2799.1,2219.5 2881.3,2256.0 2963.5,2238.0 3045.7,2256.0 3128.0,2229.5 3210.2,2199.5 3292.4,2240.5 3374.6,2240.5 3456.8,2306.0 3539.0,2320.5 3621.2,2345.5 3703.5,2356.0 3785.7,2353.0 3867.9,2410.5" fill="none" stroke="#9932cc" stroke-width="5.3" stroke-linejoin="round" stroke-linecap="butt" />
</g>
<text x="12" y="1909.5" font-family="Liberation Sans, sans-serif" font-size="26" textLength="148" lengthAdjust="spacingAndGlyphs" fill="#000">RSI(14) 31.40</text>
<g stroke="#111" stroke-width="2.45" fill="none">
<rect x="3.75" y="141.10" width="4794.55" height="1730.90"/>
<path d="M3.75 2577.60 V1877.40 H4798.30 V2578.90"/>
<line x1="2.45" y1="2577.60" x2="4810.30" y2="2577.60"/>
<line x1="4798.3" y1="203.4" x2="4809.3" y2="203.4"/>
<line x1="4798.3" y1="288.1" x2="4809.3" y2="288.1"/>
<line x1="4798.3" y1="370.3" x2="4809.3" y2="370.3"/>
<line x1="4798.3" y1="455.0" x2="4809.3" y2="455.0"/>
<line x1="4798.3" y1="537.1" x2="4809.3" y2="537.1"/>
<line x1="4798.3" y1="621.8" x2="4809.3" y2="621.8"/>
<line x1="4798.3" y1="703.9" x2="4809.3" y2="703.9"/>
<line x1="4798.3" y1="788.6" x2="4809.3" y2="788.6"/>
<line x1="4798.3" y1="870.8" x2="4809.3" y2="870.8"/>
<line x1="4798.3" y1="955.5" x2="4809.3" y2="955.5"/>
<line x1="4798.3" y1="1037.6" x2="4809.3" y2="1037.6"/>
<line x1="4798.3" y1="1122.3" x2="4809.3" y2="1122.3"/>
<line x1="4798.3" y1="1204.4" x2="4809.3" y2="1204.4"/>
<line x1="4798.3" y1="1289.1" x2="4809.3" y2="1289.1"/>
<line x1="4798.3" y1="1371.3" x2="4809.3" y2="1371.3"/>
<line x1="4798.3" y1="1456.0" x2="4809.3" y2="1456.0"/>
<line x1="4798.3" y1="1538.1" x2="4809.3" y2="1538.1"/>
<line x1="4798.3" y1="1622.8" x2="4809.3" y2="1622.8"/>
<line x1="4798.3" y1="1704.9" x2="4809.3" y2="1704.9"/>
<line x1="4798.3" y1="1789.6" x2="4809.3" y2="1789.6"/>
<line x1="4798.3" y1="1879.9" x2="4809.3" y2="1879.9"/>
<line x1="4798.3" y1="2432.0" x2="4809.3" y2="2432.0"/>
<line x1="3.8" y1="2577.6" x2="3.8" y2="2590.1"/>
<line x1="168.2" y1="2577.6" x2="168.2" y2="2590.1"/>
<line x1="332.6" y1="2577.6" x2="332.6" y2="2590.1"/>
<line x1="497.1" y1="2577.6" x2="497.1" y2="2590.1"/>
<line x1="661.5" y1="2577.6" x2="661.5" y2="2590.1"/>
<line x1="825.9" y1="2577.6" x2="825.9" y2="2590.1"/>
<line x1="990.4" y1="2577.6" x2="990.4" y2="2590.1"/>
<line x1="1154.8" y1="2577.6" x2="1154.8" y2="2590.1"/>
<line x1="1319.2" y1="2577.6" x2="1319.2" y2="2590.1"/>
<line x1="1483.7" y1="2577.6" x2="1483.7" y2="2590.1"/>
<line x1="1648.1" y1="2577.6" x2="1648.1" y2="2590.1"/>
<line x1="1812.5" y1="2577.6" x2="1812.5" y2="2590.1"/>
<line x1="1976.9" y1="2577.6" x2="1976.9" y2="2590.1"/>
<line x1="2141.4" y1="2577.6" x2="2141.4" y2="2590.1"/>
<line x1="2305.8" y1="2577.6" x2="2305.8" y2="2590.1"/>
<line x1="2470.2" y1="2577.6" x2="2470.2" y2="2590.1"/>
<line x1="2634.7" y1="2577.6" x2="2634.7" y2="2590.1"/>
<line x1="2799.1" y1="2577.6" x2="2799.1" y2="2590.1"/>
<line x1="2963.5" y1="2577.6" x2="2963.5" y2="2590.1"/>
<line x1="3128.0" y1="2577.6" x2="3128.0" y2="2590.1"/>
<line x1="3292.4" y1="2577.6" x2="3292.4" y2="2590.1"/>
<line x1="3456.8" y1="2577.6" x2="3456.8" y2="2590.1"/>
<line x1="3621.2" y1="2577.6" x2="3621.2" y2="2590.1"/>
<line x1="3785.7" y1="2577.6" x2="3785.7" y2="2590.1"/>
</g>
<g font-family="Liberation Sans, sans-serif" font-size="26" fill="#000">
<text x="4812" y="212.7" textLength="70" lengthAdjust="spacingAndGlyphs">1.0640</text>
<text x="4812" y="297.4" textLength="70" lengthAdjust="spacingAndGlyphs">1.0400</text>
<text x="4812" y="379.6" textLength="70" lengthAdjust="spacingAndGlyphs">1.0160</text>
<text x="4812" y="464.3" textLength="70" lengthAdjust="spacingAndGlyphs">0.9920</text>
<text x="4812" y="546.4" textLength="70" lengthAdjust="spacingAndGlyphs">0.9680</text>
<text x="4812" y="631.1" textLength="70" lengthAdjust="spacingAndGlyphs">0.9440</text>
<text x="4812" y="713.2" textLength="70" lengthAdjust="spacingAndGlyphs">0.9200</text>
<text x="4812" y="797.9" textLength="70" lengthAdjust="spacingAndGlyphs">0.8960</text>
<text x="4812" y="880.1" textLength="70" lengthAdjust="spacingAndGlyphs">0.8720</text>
<text x="4812" y="964.8" textLength="70" lengthAdjust="spacingAndGlyphs">0.8480</text>
<text x="4812" y="1046.9" textLength="70" lengthAdjust="spacingAndGlyphs">0.8240</text>
<text x="4812" y="1131.6" textLength="70" lengthAdjust="spacingAndGlyphs">0.8000</text>
<text x="4812" y="1213.7" textLength="70" lengthAdjust="spacingAndGlyphs">0.7760</text>
<text x="4812" y="1298.4" textLength="70" lengthAdjust="spacingAndGlyphs">0.7520</text>
<text x="4812" y="1380.6" textLength="70" lengthAdjust="spacingAndGlyphs">0.7280</text>
<text x="4812" y="1465.3" textLength="70" lengthAdjust="spacingAndGlyphs">0.7040</text>
<text x="4812" y="1547.4" textLength="70" lengthAdjust="spacingAndGlyphs">0.6800</text>
<text x="4812" y="1632.1" textLength="70" lengthAdjust="spacingAndGlyphs">0.6560</text>
<text x="4812" y="1714.2" textLength="70" lengthAdjust="spacingAndGlyphs">0.6320</text>
<text x="4812" y="1798.9" textLength="70" lengthAdjust="spacingAndGlyphs">0.6080</text>
<text x="4812" y="1899.5" textLength="59" lengthAdjust="spacingAndGlyphs">66.94</text>
<text x="4812" y="2441.3" textLength="59" lengthAdjust="spacingAndGlyphs">30.00</text>
<text x="4812" y="2572.5" textLength="59" lengthAdjust="spacingAndGlyphs">20.19</text>
<text x="1.8" y="2612" textLength="137" lengthAdjust="spacingAndGlyphs">24 Nov 2021</text>
<text x="166.2" y="2612" textLength="137" lengthAdjust="spacingAndGlyphs">26 Nov 2021</text>
<text x="330.6" y="2612" textLength="137" lengthAdjust="spacingAndGlyphs">28 Nov 2021</text>
<text x="495.1" y="2612" textLength="137" lengthAdjust="spacingAndGlyphs">30 Nov 2021</text>
<text x="659.5" y="2612" textLength="123" lengthAdjust="spacingAndGlyphs">2 Dec 2021</text>
<text x="823.9" y="2612" textLength="123" lengthAdjust="spacingAndGlyphs">4 Dec 2021</text>
<text x="988.4" y="2612" textLength="123" lengthAdjust="spacingAndGlyphs">6 Dec 2021</text>
<text x="1152.8" y="2612" textLength="123" lengthAdjust="spacingAndGlyphs">8 Dec 2021</text>
<text x="1317.2" y="2612" textLength="137" lengthAdjust="spacingAndGlyphs">10 Dec 2021</text>
<text x="1481.7" y="2612" textLength="137" lengthAdjust="spacingAndGlyphs">12 Dec 2021</text>
<text x="1646.1" y="2612" textLength="137" lengthAdjust="spacingAndGlyphs">14 Dec 2021</text>
<text x="1810.5" y="2612" textLength="137" lengthAdjust="spacingAndGlyphs">16 Dec 2021</text>
<text x="1974.9" y="2612" textLength="137" lengthAdjust="spacingAndGlyphs">18 Dec 2021</text>
<text x="2139.4" y="2612" textLength="137" lengthAdjust="spacingAndGlyphs">20 Dec 2021</text>
<text x="2303.8" y="2612" textLength="137" lengthAdjust="spacingAndGlyphs">22 Dec 2021</text>
<text x="2468.2" y="2612" textLength="137" lengthAdjust="spacingAndGlyphs">24 Dec 2021</text>
<text x="2632.7" y="2612" textLength="137" lengthAdjust="spacingAndGlyphs">26 Dec 2021</text>
<text x="2797.1" y="2612" textLength="137" lengthAdjust="spacingAndGlyphs">28 Dec 2021</text>
<text x="2961.5" y="2612" textLength="137" lengthAdjust="spacingAndGlyphs">30 Dec 2021</text>
<text x="3126.0" y="2612" textLength="114" lengthAdjust="spacingAndGlyphs">1 Jan 2022</text>
<text x="3290.4" y="2612" textLength="114" lengthAdjust="spacingAndGlyphs">3 Jan 2022</text>
<text x="3454.8" y="2612" textLength="114" lengthAdjust="spacingAndGlyphs">5 Jan 2022</text>
<text x="3619.2" y="2612" textLength="114" lengthAdjust="spacingAndGlyphs">7 Jan 2022</text>
<text x="3783.7" y="2612" textLength="114" lengthAdjust="spacingAndGlyphs">9 Jan 2022</text>
</g>
<rect x="4804.5" y="1365.5" width="86.5" height="28" fill="#7f93a8"/>
<text x="4812" y="1388.3" font-family="Liberation Sans, sans-serif" font-size="26" textLength="70" lengthAdjust="spacingAndGlyphs" fill="#fff">0.7260</text>
<path d="M3855.4 142.4 h25 l-12.5 13 z" fill="#b9b9b9"/>
<rect x="0" y="2631.3" width="4920" height="2.4" fill="#e2e2e2"/>
<polygon points="3557.7,195.2 3781.3,195.2 3704.5,301.4 3777.1,301.4 3777.1,333.5 3677.9,333.5 3624.8,404.8 3719.8,404.8 3687.7,353.1 3777.1,353.1 3777.1,385.2 3746.4,385.2 3779.9,438.3 3559.1,438.3 3637.4,333.5 3564.7,333.5 3564.7,301.4 3663.9,301.4 3715.7,229.3 3622.0,229.3 3654.2,281.8 3564.7,281.8 3564.7,249.7 3594.1,249.7" fill="#f9d807"/>
<text x="3842.2 4047.5 4261.5 4459.4 4537.6" y="422.2" font-family="Liberation Sans, sans-serif" font-weight="bold" font-size="303.3" fill="#f9d807">BAXIA</text>
</svg>
</body></html>
